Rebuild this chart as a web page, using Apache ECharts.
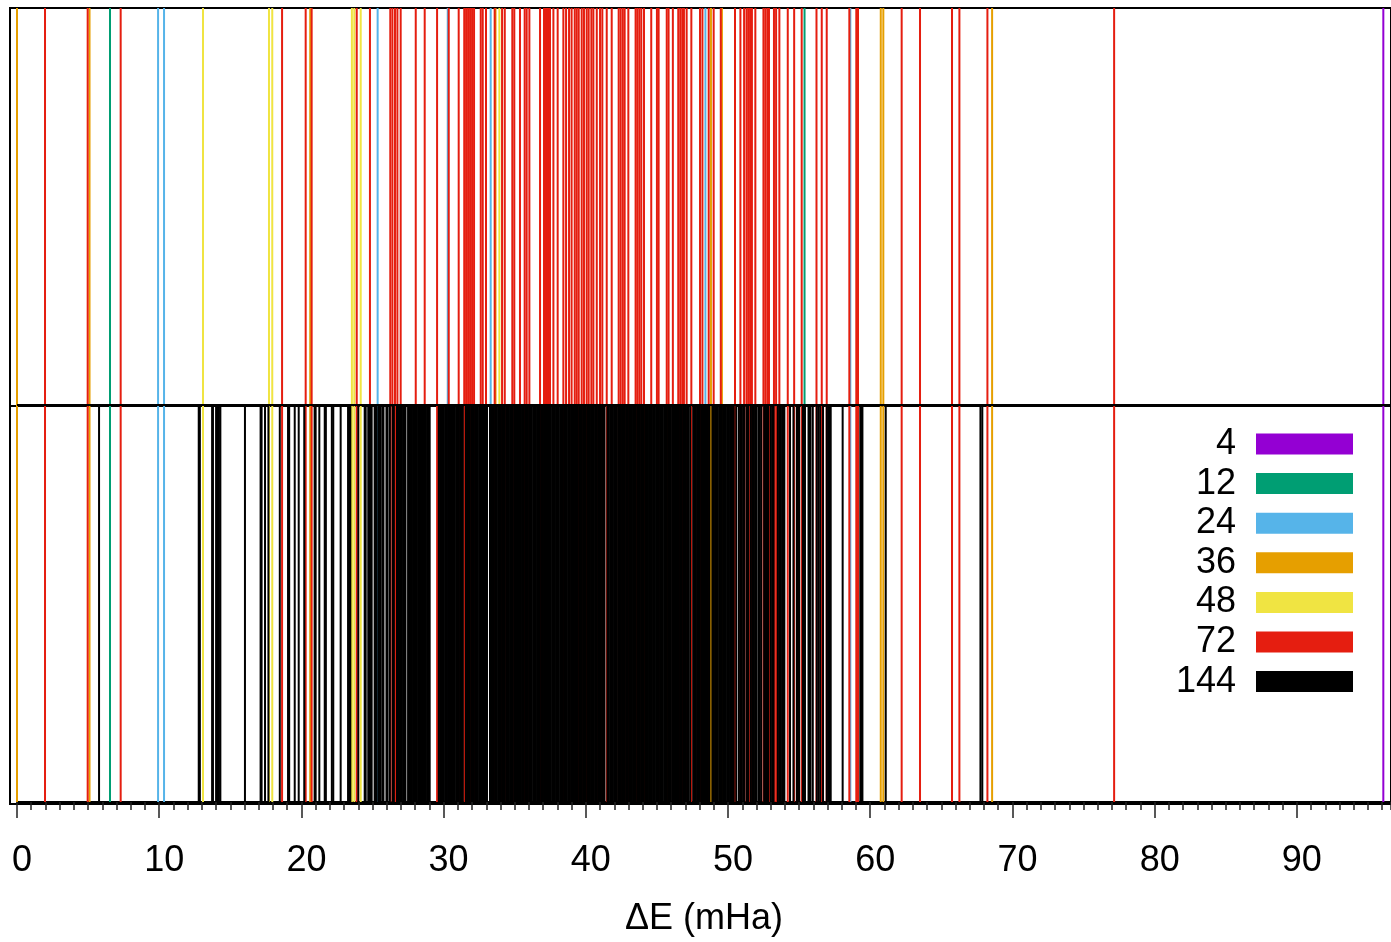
<!DOCTYPE html>
<html><head><meta charset="utf-8">
<script src="https://cdn.jsdelivr.net/npm/echarts@6/dist/echarts.min.js"></script>
<style>html,body{margin:0;padding:0;background:#fff}#c{width:1391px;height:942px}</style>
</head><body><div id="c"></div>
<script>
// Legend labels (cluster sizes) and colours
const sizes = ['4', '12', '24', '36', '48', '72', '144'];
const colors = ['#9400D3', '#009E73', '#56B4E9', '#E69F00', '#F0E442', '#E51E10', '#000000'];
// x tick labels
const majorTicks = [0, 10, 20, 30, 40, 50, 60, 70, 80, 90];

// Level positions ΔE (mHa) per size
const e4 = [96.08];
const e12 = [6.54, 55.38];
const e24 = [9.92, 10.34, 25.36, 30.29, 33.31, 48.41, 58.6];
const e36 = [0.0, 5.1, 20.62, 33.65, 48.8, 49.57, 60.74, 60.92, 68.57];
const e48 = [13.08, 17.72, 17.95, 23.55, 23.72, 24.17, 33.92];
const e72 = [1.97, 4.97, 7.29, 18.64, 20.3, 20.72, 23.89, 24.82,
  26.25, 26.4, 26.58, 26.75, 26.98, 28.04, 28.67, 29.54, 30.36, 31.06, 31.45, 31.58,
  31.72, 31.86, 32.0, 32.14, 32.61, 32.75, 32.98, 33.59, 34.11, 34.3,
  34.83, 34.97, 35.37, 35.7, 35.84, 36.03, 36.78, 37.06, 37.2, 37.34,
  37.48, 37.72, 38.02, 38.42, 38.61, 38.82, 39.0, 39.22, 39.36, 39.5,
  39.71, 39.87, 40.06, 40.2, 40.39, 40.53, 40.77, 41.0, 41.16, 41.47,
  41.82, 42.31, 42.45, 42.6, 42.73, 42.99, 43.5, 43.62, 43.76, 43.9,
  44.09, 44.6, 45.0, 45.12, 45.69, 45.82, 46.12, 46.5, 46.64, 46.78,
  46.9, 47.09, 47.42, 48.03, 48.2, 48.64, 48.99, 49.49, 50.49, 50.87,
  51.13, 51.3, 51.42, 51.55, 51.68, 51.92, 52.49, 52.62, 52.76, 52.88,
  53.23, 53.38, 53.61, 54.2, 54.65, 55.18, 56.22, 56.59, 56.94, 58.53,
  59.02, 59.14, 62.21, 63.5, 65.75, 66.27, 68.24, 77.15];
const e144 = [5.77, 12.78, 12.86, 13.72, 13.78, 14.0, 14.1, 14.2, 14.3, 16.03,
  17.13, 17.2, 17.44, 17.68, 18.48, 19.06, 19.14, 19.53, 19.81, 20.2,
  20.93, 21.0, 21.26, 21.64, 21.72, 22.14, 22.24, 22.76, 23.28, 23.36,
  23.44, 24.0, 24.45, 24.52, 24.7, 24.78, 24.86, 24.94, 25.15, 25.22,
  25.3, 25.45, 25.53, 25.68, 25.77, 25.98, 26.06, 26.22, 26.42, 26.5,
  26.72, 26.8, 26.88, 26.97, 27.06, 27.15, 27.24, 27.32, 27.5, 27.58,
  27.67, 27.76, 27.85, 27.94, 28.03, 28.12, 28.21, 28.3, 28.39, 28.48,
  28.57, 28.66, 28.75, 28.84, 28.93, 29.02,
  29.66, 29.75, 29.84, 29.93, 30.02, 30.12, 30.21, 30.31, 30.4, 30.5,
  30.59, 30.69, 30.78, 30.88, 30.97, 31.07, 31.16, 31.26, 31.35, 31.56,
  31.65, 31.75, 31.84, 31.94, 32.03, 32.13, 32.22, 32.32, 32.41, 32.51,
  32.6, 32.7, 32.79, 32.89, 32.98, 33.05, 33.26, 33.35, 33.45, 33.54,
  33.64, 33.73, 33.83, 33.92, 34.02, 34.11, 34.21, 34.3, 34.4, 34.49,
  34.59, 34.68, 34.78, 34.87, 34.97, 35.06, 35.16, 35.25, 35.35, 35.44,
  35.54, 35.63, 35.73, 35.82, 35.92, 36.01, 36.11, 36.2, 36.3, 36.39,
  36.49, 36.58, 36.68, 36.77, 36.87, 36.96, 37.06, 37.15, 37.25, 37.34,
  37.44, 37.53, 37.63, 37.72, 37.82, 37.91, 38.01, 38.1, 38.2, 38.29,
  38.39, 38.48, 38.58, 38.67, 38.77, 38.86, 38.96, 39.05, 39.15, 39.24,
  39.34, 39.43, 39.53, 39.62, 39.72, 39.81, 39.91, 40.0, 40.1, 40.19,
  40.29, 40.38, 40.48, 40.57, 40.67, 40.76, 40.86, 40.95, 41.05, 41.14,
  41.24, 41.31, 41.52, 41.61, 41.71, 41.8, 41.9, 41.99, 42.09, 42.18,
  42.28, 42.37, 42.47, 42.56, 42.66, 42.75, 42.85, 42.94, 43.04, 43.13,
  43.23, 43.32, 43.42, 43.51, 43.61, 43.7, 43.8, 43.89, 43.99, 44.08,
  44.18, 44.27, 44.37, 44.46, 44.56, 44.65, 44.75, 44.84, 44.94, 45.03,
  45.13, 45.22, 45.32, 45.41, 45.51, 45.6, 45.7, 45.79, 45.89, 45.98,
  46.08, 46.17, 46.27, 46.36, 46.46, 46.55, 46.65, 46.74, 46.84, 46.93,
  47.03, 47.12, 47.22, 47.34, 47.55, 47.64, 47.74, 47.83, 47.93, 48.02,
  48.12, 48.21, 48.31, 48.4, 48.5, 48.59, 48.69, 48.9, 49.0, 49.09,
  49.19, 49.28, 49.38, 49.47, 49.57, 49.66, 49.76, 49.85, 49.95, 50.04,
  50.14, 50.23, 50.33, 50.4, 50.58, 50.76, 50.86, 50.96, 51.06, 51.16,
  51.33, 51.42, 51.6, 51.7, 51.8, 51.9, 52.0, 52.14, 52.24, 52.34,
  52.54, 52.64, 52.74, 52.82, 53.0, 53.1, 53.2, 53.5, 53.6, 53.7,
  53.8, 53.88, 53.96, 54.36, 54.6, 54.84, 54.92, 55.0, 55.26, 55.34,
  55.41, 55.66, 55.74, 55.8, 55.96, 56.24, 56.36, 56.48, 56.68, 56.94,
  57.04, 57.13, 57.22, 58.06, 59.3, 59.38, 59.45, 61.09, 67.75, 67.88];

const levelSets = [e4, e12, e24, e36, e48, e72, e144];
const panelTop = [2, 2, 2, 2, 2, 2, 1]; // 144 only in the lower panel
const xMax = 96.62;

const chart = echarts.init(document.getElementById('c'), null, {renderer: 'canvas'});
const FONT = 'Liberation Sans, Arial, sans-serif';

const series = sizes.map((name, i) => ({
  type: 'custom',
  name: name,
  xAxisIndex: 0,
  yAxisIndex: 0,
  z: 2 + i * 0.01,
  itemStyle: {color: colors[i]},
  encode: {x: 0, y: 1},
  data: levelSets[i].map(v => [v, panelTop[i]]),
  renderItem: function (params, api) {
    const a = api.coord([api.value(0), 0]);
    const b = api.coord([api.value(0), api.value(1)]);
    return {
      type: 'line',
      shape: {x1: a[0], y1: a[1], x2: b[0], y2: b[1]},
      style: {stroke: colors[i], lineWidth: 2}
    };
  },
  markLine: i === sizes.length - 1 ? {
    silent: true, symbol: 'none', z: 6,
    lineStyle: {color: '#000', width: 2, type: 'solid'},
    label: {show: false},
    data: [{yAxis: 1}]
  } : undefined
}));

chart.setOption({
  animation: false,
  backgroundColor: '#fff',
  grid: [
    {left: 17, right: 0, top: 8, bottom: 138},
    {left: 10, right: -2, top: 8, bottom: 138, show: true, borderColor: '#000', borderWidth: 2, backgroundColor: 'transparent'}
  ],
  xAxis: [
    {
      type: 'value', gridIndex: 0, position: 'bottom', min: 0, max: xMax, interval: 10,
      axisLine: {show: true, onZero: false, lineStyle: {color: '#000', width: 2}},
      axisTick: {show: true, inside: false, length: 16, lineStyle: {color: '#222', width: 1.5}},
      splitLine: {show: false},
      axisLabel: {
        show: true, margin: 41, fontSize: 36, fontFamily: FONT, color: '#000',
        padding: [0, 0, 0, 10],
        showMaxLabel: false,
        formatter: v => (majorTicks.indexOf(Math.round(v * 100) / 100) >= 0 ? String(v) : '')
      },
      name: 'ΔE (mHa)', nameLocation: 'middle', nameGap: 99,
      nameTextStyle: {fontSize: 36, fontFamily: FONT, color: '#000', padding: [0, 0, 0, 0]}
    },
    {
      type: 'value', gridIndex: 0, position: 'bottom', min: 0, max: xMax, interval: 1,
      axisLine: {show: false, onZero: false},
      axisTick: {show: true, inside: false, length: 8, lineStyle: {color: '#222', width: 1.5}},
      axisLabel: {show: false},
      splitLine: {show: false}
    },
    {type: 'value', gridIndex: 1, min: 0, max: 1, show: false}
  ],
  yAxis: [
    {type: 'value', gridIndex: 0, min: 0, max: 2, show: false},
    {
      type: 'value', gridIndex: 1, min: 0, max: 2, interval: 1, show: true,
      axisLine: {show: false}, axisTick: {show: false}, axisLabel: {show: false},
      splitLine: {show: true, lineStyle: {color: '#000', width: 2}}
    }
  ],
  legend: {
    orient: 'vertical', right: 38, top: 426, padding: 0, itemGap: 3.6,
    itemWidth: 97, itemHeight: 21, align: 'right', icon: 'rect', selectedMode: false,
    textStyle: {fontSize: 36, fontFamily: FONT, color: '#000', lineHeight: 36, padding: [0, 15, 0, 0]},
    data: sizes.map((s, i) => ({name: s, itemStyle: {color: colors[i]}}))
  },
  series: series
});
</script>
</body></html>
